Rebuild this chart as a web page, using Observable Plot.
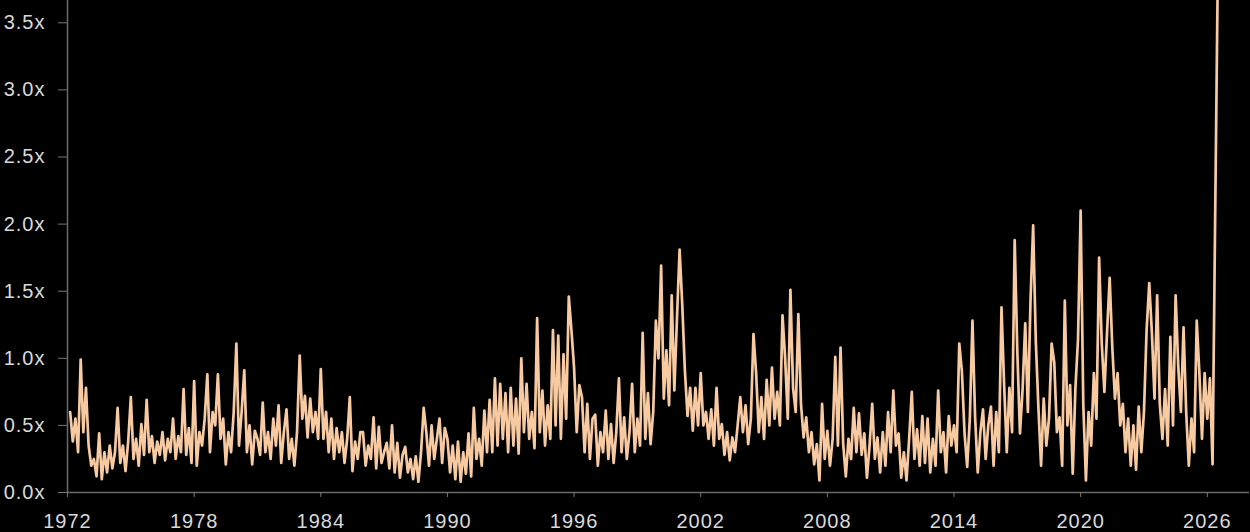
<!DOCTYPE html>
<html>
<head>
<meta charset="utf-8">
<script src="https://cdn.jsdelivr.net/npm/d3@7"></script>
<script src="https://cdn.jsdelivr.net/npm/@observablehq/plot@0.6"></script>
<style>
  body { margin: 0; background: #000; }
</style>
</head>
<body>
<div id="chart"></div>
<script>
// valores, 8 por ano desde 1972.125
const v1972_1979 = [
  0.60, 0.38, 0.55, 0.30, 0.99, 0.45, 0.78,
  0.35, 0.20, 0.25, 0.12, 0.44, 0.10, 0.30, 0.15,
  0.35, 0.18, 0.30, 0.63, 0.22, 0.35, 0.16, 0.38,
  0.71, 0.25, 0.40, 0.20, 0.51, 0.28, 0.69, 0.30,
  0.42, 0.22, 0.38, 0.28, 0.45, 0.24, 0.40, 0.30,
  0.55, 0.25, 0.42, 0.30, 0.77, 0.28, 0.48, 0.22,
  0.83, 0.20, 0.45, 0.35, 0.55, 0.88, 0.30, 0.60,
  0.50, 0.88, 0.40, 0.55, 0.21, 0.45, 0.30, 0.60
]
const v1980_1989 = [
  1.11, 0.35, 0.60, 0.91, 0.30, 0.50, 0.21, 0.46,
  0.40, 0.28, 0.67, 0.30, 0.45, 0.25, 0.55, 0.35,
  0.65, 0.22, 0.45, 0.62, 0.25, 0.40, 0.20, 0.45,
  1.02, 0.55, 0.72, 0.41, 0.70, 0.45, 0.60, 0.40,
  0.92, 0.40, 0.60, 0.30, 0.55, 0.25, 0.48, 0.30,
  0.45, 0.22, 0.40, 0.71, 0.16, 0.38, 0.25, 0.45,
  0.45, 0.20, 0.35, 0.25, 0.56, 0.18, 0.49, 0.22,
  0.30, 0.37, 0.18, 0.50, 0.15, 0.37, 0.11, 0.28,
  0.34, 0.15, 0.25, 0.10, 0.27, 0.08, 0.30, 0.63,
  0.45, 0.20, 0.50, 0.25, 0.40, 0.55, 0.22, 0.48
]
const v1990_1999 = [
  0.40, 0.15, 0.35, 0.10, 0.38, 0.08, 0.30, 0.14,
  0.44, 0.12, 0.63, 0.25, 0.40, 0.20, 0.61, 0.30,
  0.69, 0.30, 0.85, 0.35, 0.81, 0.40, 0.74, 0.30,
  0.78, 0.35, 0.70, 0.29, 1.00, 0.45, 0.81, 0.40,
  0.60, 0.33, 1.30, 0.45, 0.76, 0.35, 0.65, 0.40,
  1.21, 0.50, 1.17, 0.40, 1.03, 0.55, 1.46, 1.21,
  0.93, 0.45, 0.80, 0.71, 0.30, 0.66, 0.25, 0.55,
  0.58, 0.20, 0.45, 0.30, 0.61, 0.25, 0.51, 0.22,
  0.45, 0.85, 0.30, 0.56, 0.25, 0.45, 0.81, 0.30,
  0.55, 0.35, 1.19, 0.40, 0.74, 0.36, 0.60, 1.28
]
const v2000_2009 = [
  1.00, 1.69, 0.70, 1.06, 0.65, 1.47, 0.76, 1.30,
  1.81, 1.40, 0.91, 0.57, 0.78, 0.46, 0.78, 0.50,
  0.89, 0.50, 0.60, 0.40, 0.62, 0.35, 0.78, 0.40,
  0.51, 0.28, 0.45, 0.24, 0.41, 0.30, 0.50, 0.71,
  0.45, 0.65, 0.36, 0.55, 1.18, 0.89, 0.45, 0.71,
  0.40, 0.84, 0.50, 0.93, 0.55, 0.75, 0.50, 1.32,
  1.00, 0.55, 1.51, 0.78, 0.60, 1.33, 0.66, 0.41,
  0.56, 0.30, 0.45, 0.21, 0.36, 0.09, 0.66, 0.25,
  0.46, 0.20, 0.40, 1.01, 0.35, 1.08, 0.36, 0.12,
  0.40, 0.25, 0.63, 0.30, 0.59, 0.28, 0.44, 0.11
]
const v2010_2019 = [
  0.35, 0.66, 0.25, 0.41, 0.15, 0.45, 0.20, 0.60,
  0.30, 0.76, 0.35, 0.44, 0.11, 0.30, 0.09, 0.40,
  0.75, 0.25, 0.47, 0.20, 0.57, 0.22, 0.55, 0.15,
  0.40, 0.20, 0.76, 0.30, 0.45, 0.15, 0.57, 0.35,
  0.50, 0.30, 1.11, 0.90, 0.44, 0.19, 0.55, 1.28,
  0.56, 0.15, 0.45, 0.62, 0.25, 0.50, 0.64, 0.20,
  0.60, 0.30, 1.38, 0.80, 0.30, 0.78, 0.45, 1.88,
  1.05, 0.44, 0.77, 1.26, 0.60, 1.43, 1.99, 1.13,
  0.63, 0.20, 0.70, 0.35, 0.55, 1.11, 0.97, 0.45,
  0.56, 0.20, 1.43, 0.50, 0.80, 0.14, 0.77, 1.14
]
const v2020_2026 = [
  2.10, 0.66, 0.09, 0.60, 0.35, 0.89, 0.55, 1.75,
  1.11, 0.75, 1.19, 1.60, 1.08, 0.70, 0.89, 0.50,
  0.66, 0.30, 0.55, 0.20, 0.50, 0.17, 0.64, 0.30,
  0.60, 1.21, 1.56, 1.19, 0.70, 1.47, 0.66, 0.40,
  0.77, 0.35, 1.16, 0.50, 1.47, 0.94, 0.60, 1.23,
  0.60, 0.20, 0.55, 0.30, 1.28, 0.89, 0.40, 0.89,
  0.55, 0.85, 0.21, 2.08, 3.90
]

const xTicks = [1972, 1978, 1984, 1990, 1996, 2002, 2008, 2014, 2020, 2026]
const yTicks = [0, 0.5, 1, 1.5, 2, 2.5, 3, 3.5]

const valores = [].concat(v1972_1979, v1980_1989, v1990_1999, v2000_2009, v2010_2019, v2020_2026)
const data = valores.map((v, i) => ({fecha: 1972.125 + i * 0.125, ratio: v}))

let chart = Plot.plot({
  width: 1250,
  height: 532,
  marginLeft: 67,
  marginRight: 1,
  marginTop: 0,
  marginBottom: 40,
  style: {
    background: "#000",
    color: "#d9d9d9",
    fontFamily: "'Liberation Sans', Arial, sans-serif",
    fontSize: "20px",
    letterSpacing: "1px"
  },
  x: {domain: [1972, 2028]},
  y: {domain: [0, 492 / 134.2]},
  marks: [
    Plot.ruleY([0], {stroke: "#6a6a6a", strokeWidth: 1.5}),
    Plot.ruleX([1972], {stroke: "#6a6a6a", strokeWidth: 1.5}),
    Plot.axisX({ticks: xTicks, tickFormat: d => String(d), tickSize: 5, tickPadding: 16, stroke: "#777", fill: "#d9d9d9", label: null}),
    Plot.axisY({ticks: yTicks, tickFormat: d => d.toFixed(1) + "x", tickSize: 9, tickPadding: 13, stroke: "#777", fill: "#d9d9d9", label: null}),
    Plot.lineY(data, {x: "fecha", y: "ratio", stroke: "#f8caa2", strokeWidth: 2.7, clip: true})
  ]
})

d3.select('#chart').append(() => chart)
</script>
</body>
</html>
